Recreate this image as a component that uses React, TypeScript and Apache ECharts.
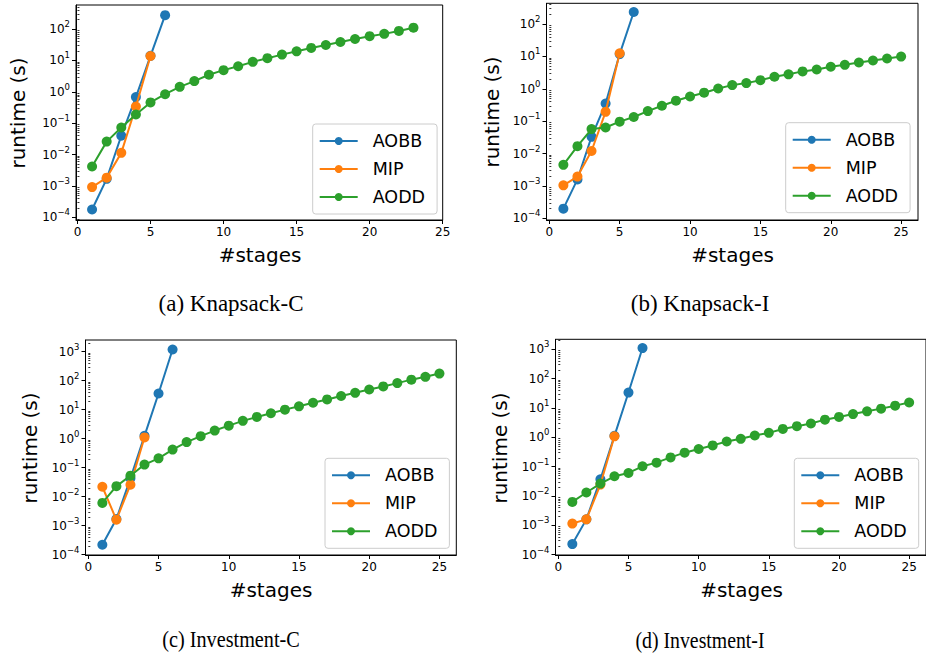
import React, { useEffect, useRef } from 'react';
import * as echarts from 'echarts';

const SERIES_NAMES = ['AOBB', 'MIP', 'AODD'];
const COLORS = ['#1f77b4', '#ff7f0e', '#2ca02c'];

// stages (x values)
const stages6 = [1, 2, 3, 4, 5, 6];
const stages5 = [1, 2, 3, 4, 5];
const stages4 = [1, 2, 3, 4];
const stages23 = [1, 2, 3, 4, 5, 6, 7, 8, 9, 10, 11, 12, 13, 14, 15, 16, 17, 18, 19, 20, 21, 22, 23];
const stages25 = [1, 2, 3, 4, 5, 6, 7, 8, 9, 10, 11, 12, 13, 14, 15, 16, 17, 18, 19, 20, 21, 22, 23, 24, 25];

// (a) Knapsack-C
const knapCAOBB = [1.8e-4, 1.7e-3, 0.040, 0.68, 14.0, 275];
const knapCMIP = [9.3e-4, 1.85e-3, 0.0114, 0.34, 13.8];
const knapCAODD = [4.2e-3, 0.026, 0.073, 0.19, 0.46, 0.84, 1.44, 2.2, 3.5, 4.9, 6.5, 9.0, 11.8, 15.3, 19.5, 25, 31, 38.5, 48, 59, 70, 87, 110];

// (b) Knapsack-I
const knapIAOBB = [2.0e-4, 1.6e-3, 0.033, 0.35, 11.8, 235];
const knapIMIP = [1.05e-3, 1.95e-3, 0.012, 0.195, 12.5];
const knapIAODD = [4.5e-3, 0.017, 0.057, 0.064, 0.097, 0.135, 0.205, 0.30, 0.43, 0.58, 0.76, 1.02, 1.3, 1.5, 1.85, 2.35, 2.8, 3.45, 3.95, 4.8, 5.5, 6.5, 7.5, 8.6, 9.9];

// (c) Investment-C
const invCAOBB = [2.2e-4, 1.7e-3, 0.043, 1.25, 36, 1180];
const invCMIP = [0.022, 1.6e-3, 0.026, 1.1];
const invCAODD = [6.1e-3, 0.023, 0.053, 0.128, 0.21, 0.42, 0.76, 1.22, 1.9, 2.8, 4.1, 5.6, 7.5, 10, 13, 17.3, 22.5, 29.5, 38, 49.5, 63, 82, 108, 135, 175];

// (d) Investment-I
const invIAOBB = [2.3e-4, 1.6e-3, 0.037, 1.12, 33.5, 1100];
const invIMIP = [1.15e-3, 1.6e-3, 0.0245, 1.08];
const invIAODD = [6.3e-3, 0.0132, 0.0265, 0.047, 0.061, 0.103, 0.137, 0.207, 0.30, 0.40, 0.53, 0.72, 0.89, 1.15, 1.42, 1.93, 2.4, 2.95, 4.0, 4.95, 6.2, 7.7, 9.5, 12, 15.4];

// ticks
const xTicks = [0, 5, 10, 15, 20, 25];
const yMajorTicks = [1e-4, 1e-3, 1e-2, 1e-1, 1, 10, 100, 1000];
const minorMultipliers = [2, 3, 4, 5, 6, 7, 8, 9];
const yMinorTicks: number[] = [];
[1e-5, 1e-4, 1e-3, 1e-2, 1e-1, 1, 10, 100, 1000].forEach((d) =>
  minorMultipliers.forEach((m) => yMinorTicks.push(+(d * m).toPrecision(3)))
);

const captions = ['(a) Knapsack-C', '(b) Knapsack-I', '(c) Investment-C', '(d) Investment-I'];
const X_TITLE = '#stages';
const Y_TITLE = 'runtime (s)';

const panels = [
  {
    grid: { left: 76, top: 5, width: 366.7, height: 215 },
    xr: [-0.1, 25], yr: [-4.08, 2.764],
    data: [[stages6, knapCAOBB], [stages5, knapCMIP], [stages23, knapCAODD]],
    legend: { left: 312.7, top: 124 },
    cap: { x: 231, y: 303, sx: 1 }, yl: { x: 17.5, y: 113 }, xl: { x: 260, y: 255 },
  },
  {
    grid: { left: 546.5, top: 3.3, width: 371.5, height: 216.7 },
    xr: [-0.2, 26.2], yr: [-4.05, 2.64],
    data: [[stages6, knapIAOBB], [stages5, knapIMIP], [stages25, knapIAODD]],
    legend: { left: 785.7, top: 122.7 },
    cap: { x: 700, y: 303, sx: 1 }, yl: { x: 491.7, y: 112 }, xl: { x: 732.5, y: 255 },
  },
  {
    grid: { left: 85.5, top: 340, width: 370.8, height: 215 },
    xr: [-0.2, 26.2], yr: [-4.01, 3.40],
    data: [[stages6, invCAOBB], [stages4, invCMIP], [stages25, invCAODD]],
    legend: { left: 325, top: 458.3 },
    cap: { x: 231, y: 640, sx: 0.88 }, yl: { x: 30, y: 448 }, xl: { x: 271, y: 590 },
  },
  {
    grid: { left: 555.5, top: 339.3, width: 371.4, height: 215.7 },
    xr: [-0.2, 26.2], yr: [-4.01, 3.34],
    data: [[stages6, invIAOBB], [stages4, invIMIP], [stages25, invIAODD]],
    legend: { left: 794.3, top: 458.3 },
    cap: { x: 700, y: 640, sx: 0.86 }, yl: { x: 500, y: 448 }, xl: { x: 741.5, y: 590 },
  },
];

const FONT = 'DejaVu Sans';

function supFormatter(v: number) {
  const e = Math.round(Math.log10(v));
  const s = e < 0 ? '\u2212' + String(-e) : String(e);
  return '{b|10}{s|' + s + '}';
}

export default function App() {
  const ref = useRef<HTMLDivElement>(null);
  useEffect(() => {
    if (!ref.current) return;
    const chart = echarts.init(ref.current, undefined, { renderer: 'svg' });

    const grid: any[] = [];
    const xAxis: any[] = [];
    const yAxis: any[] = [];
    const series: any[] = [];
    const legend: any[] = [];
    const graphic: any[] = [];

    panels.forEach((p, i) => {
      grid.push({
        ...p.grid,
        show: true,
        borderColor: '#000',
        borderWidth: 1,
        backgroundColor: 'transparent',
        containLabel: false,
      });
      xAxis.push({
        type: 'value',
        gridIndex: i,
        min: p.xr[0],
        max: p.xr[1],
        axisLine: { show: true, onZero: false, lineStyle: { color: '#000', width: 1 } },
        axisTick: { show: true, inside: false, length: 4, lineStyle: { color: '#000', width: 1 }, customValues: xTicks },
        axisLabel: { customValues: xTicks, fontSize: 12, color: '#000', fontFamily: FONT, margin: 6 },
        splitLine: { show: false },
      });
      const ymin = Math.pow(10, p.yr[0]);
      const ymax = Math.pow(10, p.yr[1]);
      const majors = yMajorTicks.filter((v) => v >= ymin && v <= ymax);
      const minors = yMinorTicks.filter((v) => v >= ymin && v <= ymax);
      yAxis.push({
        type: 'log',
        logBase: 10,
        gridIndex: i,
        min: ymin,
        max: ymax,
        axisLine: { show: true, onZero: false, lineStyle: { color: '#000', width: 1 } },
        axisTick: { show: true, inside: false, length: 4, lineStyle: { color: '#000', width: 1 }, customValues: majors },
        axisLabel: {
          customValues: majors,
          formatter: supFormatter,
          margin: 6,
          color: '#000',
          rich: {
            b: { fontSize: 12, fontFamily: FONT, color: '#000' },
            s: { fontSize: 8.5, fontFamily: FONT, color: '#000', padding: [0, 0, 10, 0] },
          },
        },
        splitLine: { show: false },
      });
      yAxis.push({
        type: 'log',
        logBase: 10,
        gridIndex: i,
        min: ymin,
        max: ymax,
        axisLine: { show: false },
        axisTick: { show: true, inside: false, length: 2, lineStyle: { color: '#000', width: 0.8 }, customValues: minors },
        axisLabel: { show: false },
        splitLine: { show: false },
      });
      p.data.forEach(([xs, ys], k) => {
        series.push({
          type: 'line',
          name: SERIES_NAMES[k],
          xAxisIndex: i,
          yAxisIndex: 2 * i,
          data: (xs as number[]).map((x, j) => [x, (ys as number[])[j]]),
          symbol: 'circle',
          symbolSize: 10,
          showSymbol: true,
          color: COLORS[k],
          lineStyle: { width: 2, color: COLORS[k] },
          itemStyle: { color: COLORS[k] },
          emphasis: { disabled: true },
          z: 2 + k,
        });
      });
      legend.push({
        orient: 'vertical',
        left: p.legend.left,
        top: p.legend.top,
        data: SERIES_NAMES,
        itemWidth: 38,
        itemHeight: 10,
        itemGap: 10,
        padding: [8, 12, 8, 6],
        borderColor: '#cccccc',
        borderWidth: 1,
        borderRadius: 3,
        backgroundColor: 'rgba(255,255,255,0.8)',
        selectedMode: false,
        textStyle: { fontSize: 17.5, fontFamily: FONT, color: '#000', padding: [0, 0, 0, 10] },
      });
      graphic.push({
        type: 'text',
        x: p.cap.x,
        y: p.cap.y,
        scaleX: p.cap.sx,
        style: { text: captions[i], fontSize: 23, fontFamily: 'Liberation Serif', fill: '#000', textAlign: 'center', textVerticalAlign: 'middle' },
      });
      graphic.push({
        type: 'text',
        x: p.xl.x,
        y: p.xl.y,
        style: { text: X_TITLE, fontSize: 20, fontFamily: FONT, fill: '#000', textAlign: 'center', textVerticalAlign: 'middle' },
      });
      graphic.push({
        type: 'text',
        x: p.yl.x,
        y: p.yl.y,
        rotation: Math.PI / 2,
        style: { text: Y_TITLE, fontSize: 20, fontFamily: FONT, fill: '#000', textAlign: 'center', textVerticalAlign: 'middle' },
      });
    });

    chart.setOption({
      animation: false,
      backgroundColor: '#fff',
      textStyle: { fontFamily: FONT },
      grid,
      xAxis,
      yAxis,
      series,
      legend,
      graphic,
    });
    return () => chart.dispose();
  }, []);
  return <div ref={ref} style={{ position: 'absolute', left: 0, top: 0, width: 926, height: 660 }} />;
}
